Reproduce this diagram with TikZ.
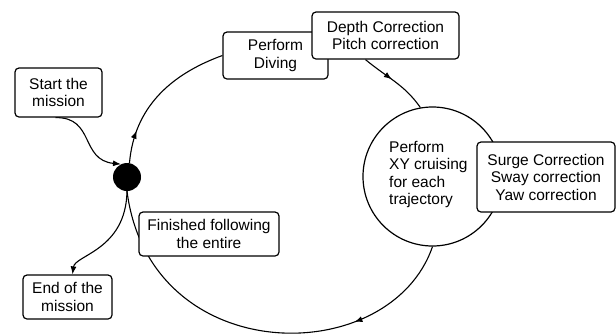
\documentclass[tikz,border=0pt]{standalone}
\usepackage{fontspec}
\setmainfont{Liberation Sans}
\usetikzlibrary{arrows.meta,decorations.markings,backgrounds}
\begin{document}
\begin{tikzpicture}[x=1pt,y=-1pt,
  txt/.style={font=\fontsize{15.5}{17.5}\selectfont},
  box/.style={draw,line width=1.2pt,rounded corners=4pt,fill=white,align=center,inner sep=0pt,txt},
  conn/.style={line width=1.1pt},
  tip/.style={-{Latex[length=8pt,width=6pt]}},
  midarrow/.style={postaction={decorate},decoration={markings,mark=at position #1 with {\arrow{Latex[length=8pt,width=6pt]}}}}
]
\useasboundingbox (0,0) rectangle (616,333);

\node[box,minimum width=87pt,minimum height=49pt] (start) at (58.5,92.5) {Start the\\mission};
\node[box,minimum width=105pt,minimum height=47pt] (dive) at (275.5,55.5) {Perform\\Diving};
\node[box,minimum width=147pt,minimum height=47pt] (depth) at (385.5,35.5) {Depth Correction\\Pitch correction};
\node[draw,circle,line width=1.2pt,minimum size=139pt,inner sep=0pt] (cruise) at (432.5,176.5) {};
\node[align=left,anchor=west,inner sep=0pt,txt] (cruisetext) at (389,174.5) {Perform\\XY cruising\\for each\\trajectory};
\node[box,minimum width=138pt,minimum height=70pt] (surge) at (546,177) {Surge Correction\\Sway correction\\Yaw correction};
\node[circle,fill=black,minimum size=28pt,inner sep=0pt] (dot) at (127,177) {};
\node[box,minimum width=140pt,minimum height=44pt] (fin) at (209,234) {Finished following\\the entire};
\node[box,minimum width=89pt,minimum height=44pt] (end) at (67.5,297) {End of the\\mission};

\begin{scope}[on background layer]
\draw[conn,tip] ([xshift=-3pt]start.south) .. controls (95,117) and (80,160) .. (dot.115);
\draw[conn,midarrow=0.22] (dot.80) to[out=85,in=200] (dive.west);
\draw[conn,midarrow=0.45] ([xshift=-20pt]depth.south) to[out=-40,in=125] (cruise.100);
\draw[conn,midarrow=0.27] (cruise.south) .. controls (390,370) and (150,370) .. (dot.south);
\draw[conn,tip] (dot.south) .. controls (126,250) and (75,255) .. ([xshift=5pt]end.north);
\end{scope}
\end{tikzpicture}
\end{document}
